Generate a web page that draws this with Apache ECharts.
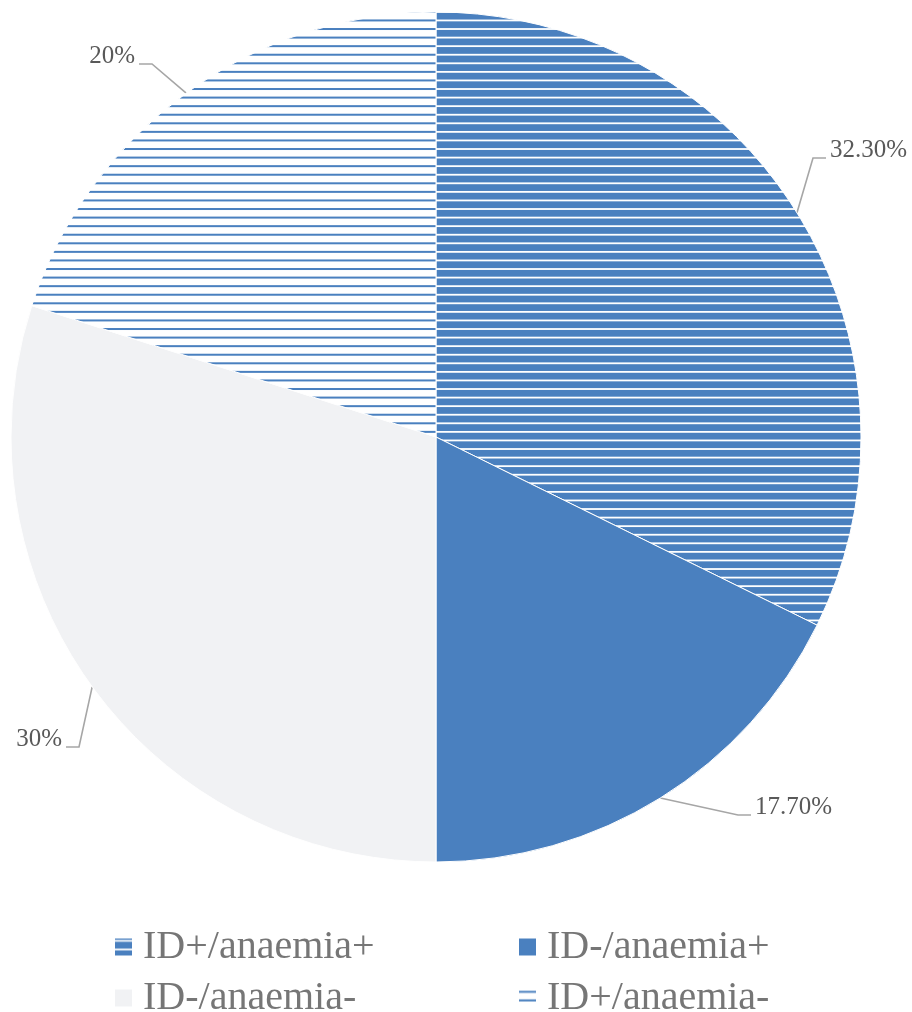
<!DOCTYPE html>
<html>
<head>
<meta charset="utf-8">
<script src="https://cdn.jsdelivr.net/npm/echarts@6/dist/echarts.min.js"></script>
<style>
html,body{margin:0;padding:0;background:#fff;}
#chart{width:912px;height:1012px;}
</style>
</head>
<body>
<div id="chart"></div>
<script>
// Data
const categories = ['ID+/anaemia+', 'ID-/anaemia+', 'ID-/anaemia-', 'ID+/anaemia-'];
const values = [32.3, 17.7, 30, 20];
const legendLeftCol = ['ID+/anaemia+', 'ID-/anaemia-'];
const legendRightCol = ['ID-/anaemia+', 'ID+/anaemia-'];

const BLUE = '#4a80bf';
const GRAY = '#f1f2f4';

function stripePattern(bg, line, thick) {
  const c = document.createElement('canvas');
  c.width = 8; c.height = 60;
  const ctx = c.getContext('2d');
  ctx.fillStyle = bg;
  ctx.fillRect(0, 0, 8, 60);
  ctx.fillStyle = line;
  const period = 60 / 7;
  for (let k = 0; k < 7; k++) {
    const y = 3.3 + k * period;
    ctx.fillRect(0, y - thick / 2, 8, thick);
  }
  return { image: c, repeat: 'repeat' };
}

const fills = [
  stripePattern(BLUE, '#ffffff', 1.8),
  BLUE,
  GRAY,
  stripePattern('#ffffff', BLUE, 2)
];

// label anchor positions (layout only)
const labelSpots = [
  { x: 830, y: 150, side: 'right' },
  { x: 755, y: 807, side: 'right' },
  { x: 62, y: 739, side: 'left' },
  { x: 135, y: 56, side: 'left' }
];

const chart = echarts.init(document.getElementById('chart'), null, { renderer: 'canvas' });

const legendCommon = {
  orient: 'vertical',
  top: 927,
  height: 120,
  padding: 0,
  itemWidth: 19,
  itemHeight: 19,
  itemGap: 11,
  icon: 'rect',
  selectedMode: false,
  textStyle: {
    fontFamily: 'Liberation Serif',
    fontSize: 40,
    lineHeight: 40,
    color: '#767676',
    padding: [0, 0, 0, 5]
  }
};

chart.setOption({
  animation: false,
  backgroundColor: '#ffffff',
  legend: [
    Object.assign({}, legendCommon, { left: 113, data: legendLeftCol }),
    Object.assign({}, legendCommon, { left: 517, data: legendRightCol })
  ],
  series: [{
    type: 'pie',
    center: [436, 437],
    radius: 425,
    startAngle: 90,
    clockwise: true,
    data: categories.map((name, i) => ({
      name: name,
      value: values[i],
      itemStyle: { color: fills[i] }
    })),
    itemStyle: { borderColor: '#ffffff', borderWidth: 1 },
    emphasis: { disabled: true },
    label: {
      show: true,
      position: 'outside',
      overflow: 'none',
      fontFamily: 'Liberation Serif',
      fontSize: 25,
      color: '#595959',
      formatter: p => (Number.isInteger(p.value) ? p.value : p.value.toFixed(2)) + '%'
    },
    labelLine: {
      show: true,
      length: 15,
      length2: 15,
      lineStyle: { color: '#a6a6a6', width: 1.6 }
    },
    labelLayout: function (params) {
      const s = labelSpots[params.dataIndex];
      const right = s.side === 'right';
      const endX = right ? s.x - 4 : s.x + 4;
      const endY = s.y + 8;
      const midX = right ? endX - 13 : endX + 13;
      const p0 = params.labelLinePoints ? params.labelLinePoints[0] : [midX, endY];
      return {
        x: s.x,
        y: s.y,
        align: right ? 'left' : 'right',
        verticalAlign: 'middle',
        labelLinePoints: [p0, [midX, endY], [endX, endY]]
      };
    }
  }]
});
</script>
</body>
</html>
